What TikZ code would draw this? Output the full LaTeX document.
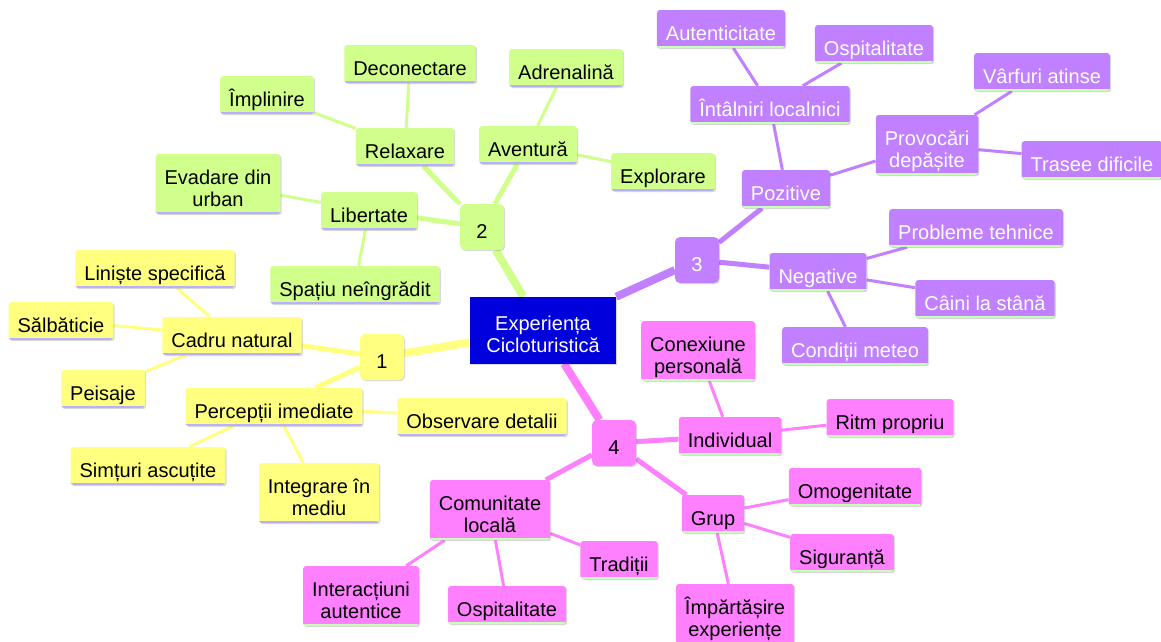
\documentclass[tikz,border=0pt]{standalone}
\usepackage{fontspec}
\setmainfont{Liberation Sans}
\usepackage{xcolor}
\usetikzlibrary{backgrounds, shadows}

\definecolor{yel}{RGB}{255,255,128}
\definecolor{grn}{RGB}{208,255,140}
\definecolor{prp}{RGB}{192,128,255}
\definecolor{pnk}{RGB}{255,128,255}
\definecolor{ctr}{RGB}{0,0,220}
\definecolor{lav}{RGB}{184,176,255}
\definecolor{mint}{RGB}{200,255,184}

\begin{document}
\begin{tikzpicture}[x=1pt, y=-1pt,
        every node/.style={font=\fontsize{20}{22}\selectfont, align=center, inner xsep=9pt, inner ysep=3pt, minimum height=38pt, rounded corners=3pt,
            execute at begin node={\rule{0pt}{26.5pt}}, execute at end node={\rule[-4.5pt]{0pt}{0pt}},
            drop shadow={shadow xshift=1.2pt, shadow yshift=-1.2pt, fill=black, opacity=.15}},
        box/.style 2 args={fill=#1, path picture={\draw[#2, line width=4.5pt] (path picture bounding box.south west) -- (path picture bounding box.south east);}},
        yelbox/.style={box={yel}{lav}},
        grnbox/.style={box={grn}{lav}},
        prpbox/.style={box={prp}{mint}, text=white},
        pnkbox/.style={box={pnk}{mint}},
        hub/.style={fill=#1, minimum width=44pt, minimum height=46pt, rounded corners=5pt},
        tall/.style={minimum height=60pt, execute at begin node={\rule{0pt}{48.5pt}}},
        main/.style={tall, fill=ctr, text=white, rounded corners=0pt, minimum width=146pt, minimum height=67pt},
        root/.style={line width=8pt},
        trunk/.style={line width=5pt},
        link/.style={line width=3pt}]
        \useasboundingbox (0, 0) rectangle (1161, 641);

        \node[main] (exp) at (543, 330) {Experiența\\Cicloturistică};

        \node[hub=yel] (h1) at (382, 357) {1};
        \node[hub=grn] (h2) at (482, 227) {2};
        \node[hub=prp, text=white] (h3) at (697, 260) {3};
        \node[hub=pnk] (h4) at (614, 443) {4};

        \node[yelbox] (cadru) at (232, 336) {Cadru natural};
        \node[yelbox] (liniste) at (155, 269) {Liniște specifică};
        \node[yelbox] (salbaticie) at (61, 321) {Sălbăticie};
        \node[yelbox] (peisaje) at (103, 389) {Peisaje};
        \node[yelbox] (perceptii) at (274, 407) {Percepții imediate};
        \node[yelbox] (simturi) at (148, 466) {Simțuri ascuțite};
        \node[yelbox, tall] (integrare) at (319, 493) {Integrare în\\mediu};
        \node[yelbox] (observare) at (482, 417) {Observare detalii};

        \node[grnbox] (relaxare) at (405, 147) {Relaxare};
        \node[grnbox] (aventura) at (528, 145) {Aventură};
        \node[grnbox] (libertate) at (369, 211) {Libertate};
        \node[grnbox] (implinire) at (267, 95) {Împlinire};
        \node[grnbox] (deconectare) at (410, 64) {Deconectare};
        \node[grnbox] (adrenalina) at (566, 68) {Adrenalină};
        \node[grnbox] (explorare) at (663, 172) {Explorare};
        \node[grnbox, tall] (evadare) at (218, 184) {Evadare din\\urban};
        \node[grnbox] (spatiu) at (355, 285) {Spațiu neîngrădit};

        \node[prpbox] (pozitive) at (786, 189) {Pozitive};
        \node[prpbox] (negative) at (818, 272) {Negative};
        \node[prpbox] (intalniri) at (770, 105) {Întâlniri localnici};
        \node[prpbox] (autenticitate) at (721, 29) {Autenticitate};
        \node[prpbox] (ospita) at (874, 44) {Ospitalitate};
        \node[prpbox, tall] (provocari) at (927, 145) {Provocări\\depășite};
        \node[prpbox] (varfuri) at (1042, 72) {Vârfuri atinse};
        \node[prpbox] (trasee) at (1092, 160) {Trasee dificile};
        \node[prpbox] (probleme) at (976, 228) {Probleme tehnice};
        \node[prpbox] (caini) at (985, 299) {Câini la stână};
        \node[prpbox] (conditii) at (855, 346) {Condiții meteo};

        \node[pnkbox, tall] (conexiune) at (698, 351) {Conexiune\\personală};
        \node[pnkbox] (individual) at (730, 436) {Individual};
        \node[pnkbox] (ritm) at (890, 418) {Ritm propriu};
        \node[pnkbox] (grup) at (713, 514) {Grup};
        \node[pnkbox] (omogen) at (855, 487) {Omogenitate};
        \node[pnkbox] (siguranta) at (842, 553) {Siguranță};
        \node[pnkbox, tall] (impartasire) at (735, 614) {Împărtășire\\experiențe};
        \node[pnkbox, tall] (comunitate) at (490, 510) {Comunitate\\locală};
        \node[pnkbox] (traditii) at (619, 560) {Tradiții};
        \node[pnkbox] (ospitb) at (507, 605) {Ospitalitate};
        \node[pnkbox, tall] (interactiuni) at (361, 596) {Interacțiuni\\autentice};

        \begin{scope}[on background layer]
            \draw[yel, root] (exp) -- (h1);
            \draw[yel, trunk] (h1) -- (cadru);
            \draw[yel, trunk] (h1) -- (perceptii);
            \draw[yel, link] (cadru) -- (liniste);
            \draw[yel, link] (cadru) -- (salbaticie);
            \draw[yel, link] (cadru) -- (peisaje);
            \draw[yel, link] (perceptii) -- (simturi);
            \draw[yel, link] (perceptii) -- (integrare);
            \draw[yel, link] (perceptii) -- (observare);

            \draw[grn, root] (exp) -- (h2);
            \draw[grn, trunk] (h2) -- (relaxare);
            \draw[grn, trunk] (h2) -- (aventura);
            \draw[grn, trunk] (h2) -- (libertate);
            \draw[grn, link] (relaxare) -- (implinire);
            \draw[grn, link] (relaxare) -- (deconectare);
            \draw[grn, link] (aventura) -- (adrenalina);
            \draw[grn, link] (aventura) -- (explorare);
            \draw[grn, link] (libertate) -- (evadare);
            \draw[grn, link] (libertate) -- (spatiu);

            \draw[prp, root] (exp) -- (h3);
            \draw[prp, trunk] (h3) -- (pozitive);
            \draw[prp, trunk] (h3) -- (negative);
            \draw[prp, link] (pozitive) -- (intalniri);
            \draw[prp, link] (pozitive) -- (provocari);
            \draw[prp, link] (intalniri) -- (autenticitate);
            \draw[prp, link] (intalniri) -- (ospita);
            \draw[prp, link] (provocari) -- (varfuri);
            \draw[prp, link] (provocari) -- (trasee);
            \draw[prp, link] (negative) -- (probleme);
            \draw[prp, link] (negative) -- (caini);
            \draw[prp, link] (negative) -- (conditii);

            \draw[pnk, root] (exp) -- (h4);
            \draw[pnk, trunk] (h4) -- (individual);
            \draw[pnk, trunk] (h4) -- (grup);
            \draw[pnk, trunk] (h4) -- (comunitate);
            \draw[pnk, link] (individual) -- (conexiune);
            \draw[pnk, link] (individual) -- (ritm);
            \draw[pnk, link] (grup) -- (omogen);
            \draw[pnk, link] (grup) -- (siguranta);
            \draw[pnk, link] (grup) -- (impartasire);
            \draw[pnk, link] (comunitate) -- (traditii);
            \draw[pnk, link] (comunitate) -- (ospitb);
            \draw[pnk, link] (comunitate) -- (interactiuni);
        \end{scope}
\end{tikzpicture}
\end{document}
